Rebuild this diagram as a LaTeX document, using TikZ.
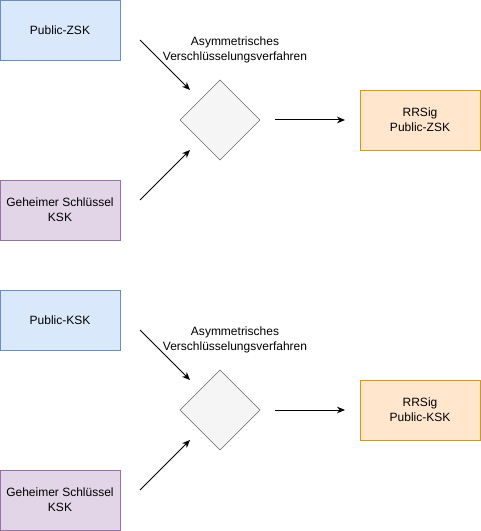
\documentclass[tikz,border=0pt]{standalone}
\usepackage{fontspec}
\setmainfont{Liberation Sans}
\usetikzlibrary{shapes.geometric, arrows.meta, positioning}
\definecolor{keyblue}{HTML}{DAE8FC}
\definecolor{keybluedraw}{HTML}{6C8EBF}
\definecolor{keypurple}{HTML}{E1D5E7}
\definecolor{keypurpledraw}{HTML}{9673A6}
\definecolor{sigorange}{HTML}{FFE6CC}
\definecolor{sigorangedraw}{HTML}{D79B00}
\definecolor{procgray}{HTML}{F5F5F5}
\definecolor{procgraydraw}{HTML}{666666}
\tikzset{
  pubkey/.style   = {rectangle, draw=keybluedraw, fill=keyblue,
                     minimum width=90pt, minimum height=45pt, align=center,
                     font=\fontsize{9}{11}\selectfont},
  privkey/.style  = {rectangle, draw=keypurpledraw, fill=keypurple,
                     minimum width=90pt, minimum height=45pt, align=center,
                     font=\fontsize{9}{11}\selectfont},
  signature/.style= {rectangle, draw=sigorangedraw, fill=sigorange,
                     minimum width=90pt, minimum height=45pt, align=center,
                     font=\fontsize{9}{11}\selectfont},
  process/.style  = {diamond, draw=procgraydraw, fill=procgray,
                     minimum width=60pt, minimum height=60pt, inner sep=0pt},
  proclabel/.style= {align=center, font=\fontsize{9}{11}\selectfont},
  arrow/.style    = {-{Stealth[length=6pt, width=5pt]}, line width=0.75pt},
}

\begin{document}
\begin{tikzpicture}[x=0.75pt, y=-0.75pt]

    \useasboundingbox (0,0) rectangle (481,531);

    % ── Upper group: signing the ZSK ──────────────────────────────
    \node[pubkey]    (zsk)     at (60,30)  {Public-ZSK};
    \node[privkey]   (ksk1)    at (60,210) {Geheimer Schlüssel\\ KSK};
    \node[process]   (crypt1)  at (220,120) {};
    \node[proclabel] (label1)  at (235,50)
      {Asymmetrisches\\ Verschlüsselungsverfahren};
    \node[signature] (sigzsk)  at (420,120) {RRSig\\ Public-ZSK};

    \coordinate (in1a)  at (140,40);
    \coordinate (in1ae) at (190,90);
    \coordinate (in1b)  at (140,200);
    \coordinate (in1be) at (190,150);
    \coordinate (out1)  at (275,120);
    \coordinate (out1e) at (345,120);

    % ── Lower group: signing the KSK ──────────────────────────────
    \node[pubkey]    (kskpub)  at (60,320) {Public-KSK};
    \node[privkey]   (ksk2)    at (60,500) {Geheimer Schlüssel\\ KSK};
    \node[process]   (crypt2)  at (220,410) {};
    \node[proclabel] (label2)  at (235,340)
      {Asymmetrisches\\ Verschlüsselungsverfahren};
    \node[signature] (sigksk)  at (420,410) {RRSig\\ Public-KSK};

    \coordinate (in2a)  at (140,330);
    \coordinate (in2ae) at (190,380);
    \coordinate (in2b)  at (140,490);
    \coordinate (in2be) at (190,440);
    \coordinate (out2)  at (275,410);
    \coordinate (out2e) at (345,410);

    % ── Arrows ────────────────────────────────────────────────────
    \draw[arrow] (in1a) -- (in1ae);
    \draw[arrow] (in1b) -- (in1be);
    \draw[arrow] (out1) -- (out1e);
    \draw[arrow] (in2a) -- (in2ae);
    \draw[arrow] (in2b) -- (in2be);
    \draw[arrow] (out2) -- (out2e);

\end{tikzpicture}
\end{document}
